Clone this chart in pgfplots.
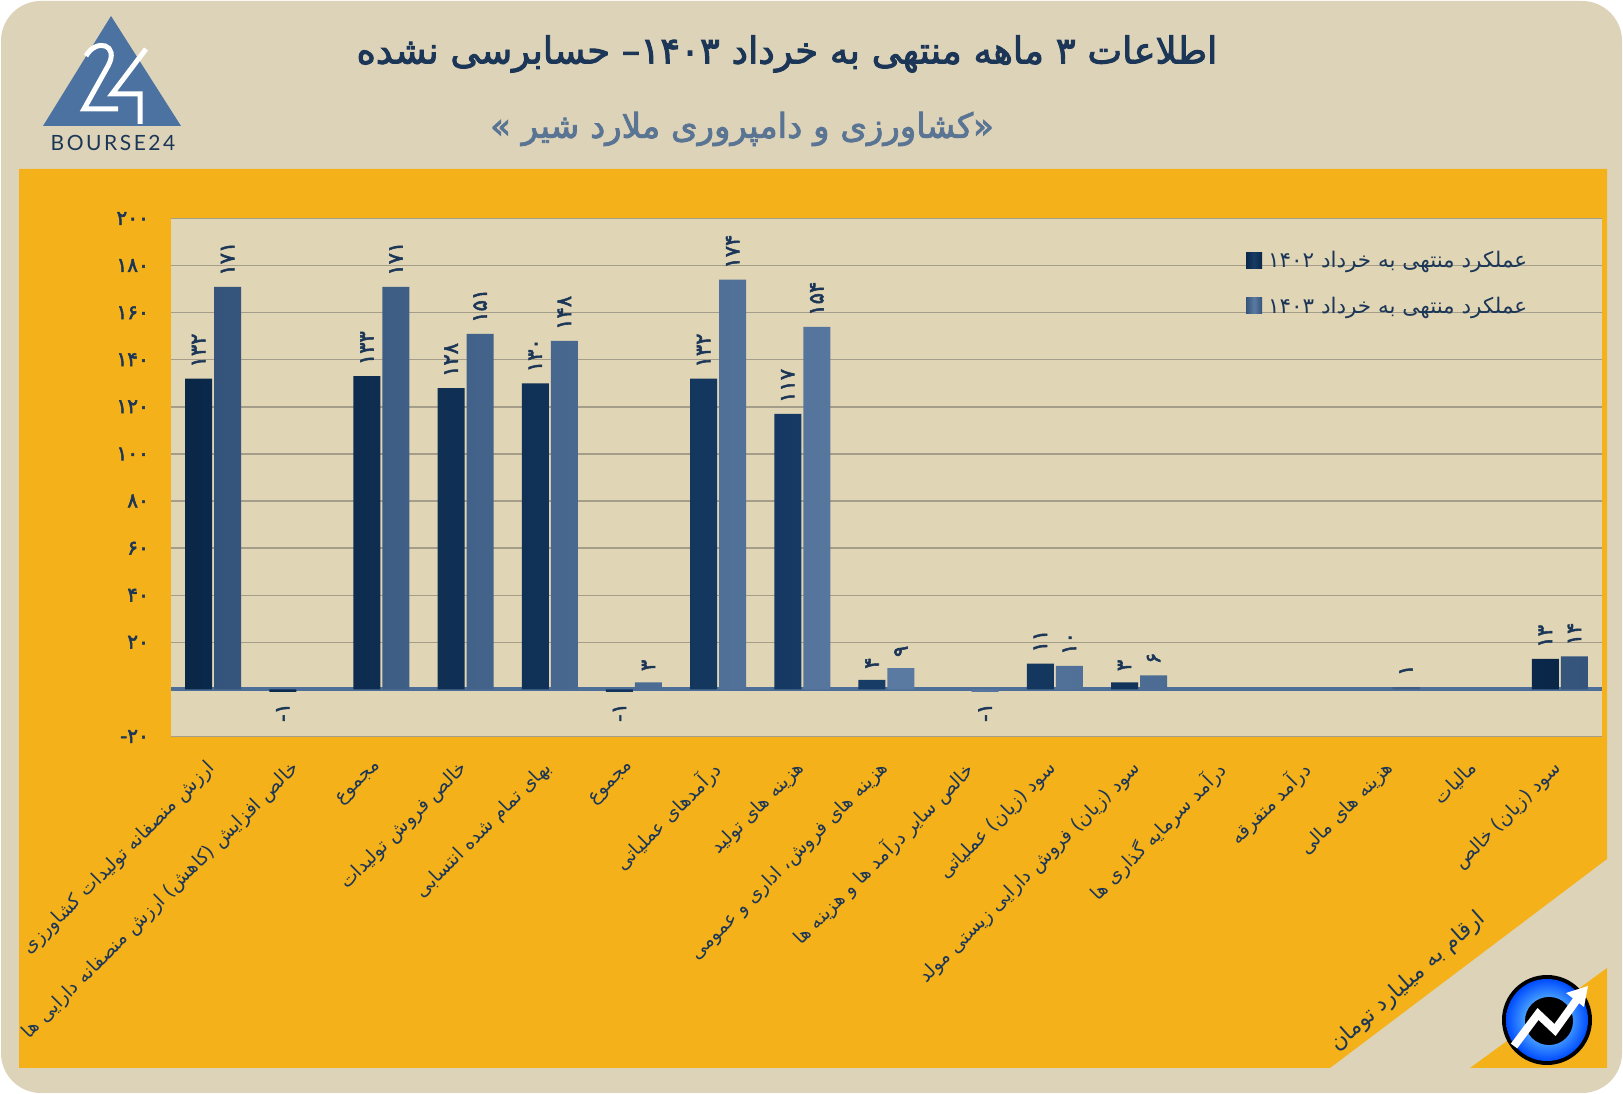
\documentclass[border=0pt]{standalone}
\usepackage{fontspec}
\usepackage{pgfplots}
\pgfplotsset{compat=1.18}
\usepackage{pgfplotstable}
\TeXXeTstate=1
\newfontfamily\fa[Script=Arabic]{DejaVu Sans}
\newfontfamily\fab[Script=Arabic,FakeBold=2.5]{DejaVu Sans}
\newfontfamily\logofont[LetterSpace=12]{Lato}
\newcommand\R[1]{\beginR #1\endR}

\definecolor{bgbeige}{HTML}{DDD3B8}
\definecolor{panel}{HTML}{F5B119}
\definecolor{plotbg}{HTML}{E0D5B5}
\definecolor{gridc}{HTML}{A39D8A}
\definecolor{navy}{HTML}{0A2748}
\definecolor{navyhi}{HTML}{173C66}
\definecolor{steel}{HTML}{34547C}
\definecolor{steelhi}{HTML}{5A7AA2}
\definecolor{txt}{HTML}{1B3657}
\definecolor{sub}{HTML}{5A7494}
\definecolor{zeroline}{HTML}{4D6E98}
\definecolor{logoblue}{HTML}{4B72A0}

% 1402
\pgfplotstableread{
x y lab
0 132 ۱۳۲
1 -1 \hbox{-}۱
2 133 ۱۳۳
3 128 ۱۲۸
4 130 ۱۳۰
5 -1 \hbox{-}۱
6 132 ۱۳۲
7 117 ۱۱۷
8 4 ۴
10 11 ۱۱
11 3 ۳
16 13 ۱۳
}\tA
% 1403
\pgfplotstableread{
x y lab
0 171 ۱۷۱
2 171 ۱۷۱
3 151 ۱۵۱
4 148 ۱۴۸
5 3 ۳
6 174 ۱۷۴
7 154 ۱۵۴
8 9 ۹
9 -1 \hbox{-}۱
10 10 ۱۰
11 6 ۶
14 1 ۱
16 14 ۱۴
}\tB

\begin{document}
\begin{tikzpicture}[x=1pt,y=1pt]
\useasboundingbox (0,0) rectangle (1623,1094);
\fill[white] (0,0) rectangle (1623,1094);
\fill[bgbeige, rounded corners=40pt] (1,1) rectangle (1622,1093);
\fill[panel] (19,925) -- (1607,925) -- (1607,235) -- (1330,26) -- (19,26) -- cycle;
\fill[panel] (1607,126) -- (1607,26) -- (1470,26) -- cycle;

\begin{axis}[
    at={(171pt,357.5pt)}, anchor=south west,
    width=1431pt, height=518pt, scale only axis,
    xmin=-0.5, xmax=16.5, ymin=-20, ymax=200,
    axis background/.style={fill=plotbg},
    axis line style={draw=none},
    tick style={draw=none},
    ymajorgrids, grid style={gridc, line width=1.3pt},
    ytick={-20,20,40,...,200},
    yticklabels={\hbox{-}۲۰,۲۰,۴۰,۶۰,۸۰,۱۰۰,۱۲۰,۱۴۰,۱۶۰,۱۸۰,۲۰۰},
    extra y ticks={0}, extra y tick labels={},
    extra y tick style={grid style={zeroline, line width=4pt}},
    yticklabel style={font=\fab\fontsize{20}{24}\selectfont, text=txt, anchor=east, inner sep=0pt, xshift=-22pt},
    xtick={0,...,16},
    xticklabels={
      {\R{ارزش منصفانه تولیدات کشاورزی}},
      {\R{خالص افزایش (کاهش) ارزش منصفانه دارایی ها}},
      {\R{مجموع}},
      {\R{خالص فروش تولیدات}},
      {\R{بهای تمام شده انتسابی}},
      {\R{مجموع}},
      {\R{درآمدهای عملیاتی}},
      {\R{هزینه های تولید}},
      {\R{هزینه های فروش، اداری و عمومی}},
      {\R{خالص سایر درآمد ها و هزینه ها}},
      {\R{سود (زیان) عملیاتی}},
      {\R{سود (زیان) فروش دارایی زیستی مولد}},
      {\R{درآمد سرمایه گذاری ها}},
      {\R{درآمد متفرقه}},
      {\R{هزینه های مالی}},
      {\R{مالیات}},
      {\R{سود (زیان) خالص}}},
    xticklabel style={font=\fa\fontsize{19}{23}\selectfont, text=txt, inner sep=0pt, xshift=-8pt, yshift=-18pt, rotate=45, anchor=north east},
    ybar, bar width=27pt,
    point meta=explicit symbolic,
    nodes near coords,
    visualization depends on={rawy \as \ry},
    every node near coord/.append style={font=\fab\fontsize{21}{25}\selectfont, text=txt, rotate=90,
      anchor=\ifdim\ry pt<0pt east\else west\fi, inner xsep=11pt, inner ysep=0pt},
    legend image code/.code={\draw[#1,draw=none] (0pt,-8pt) rectangle (16pt,8pt);},
    legend style={at={(0.749,0.945)}, anchor=north west, draw=none, fill=none,
      font=\fa\fontsize{21.5}{26}\selectfont, text=txt, row sep=24pt,
      nodes={inner xsep=6pt}},
    legend cell align=left,
]
\addplot[bar shift=-14.5pt, draw=none, left color=navy, right color=navy, middle color=navyhi]
  table[x=x, y=y, meta=lab] {\tA};
\addplot[bar shift=14.5pt, draw=none, left color=steel, right color=steel, middle color=steelhi]
  table[x=x, y=y, meta=lab] {\tB};
\legend{\R{عملکرد منتهی به خرداد ۱۴۰۲}, \R{عملکرد منتهی به خرداد ۱۴۰۳}}
\end{axis}

% titles
\node[font=\fab\fontsize{37}{44}\selectfont, text=txt] at (787,1040)
  {\R{اطلاعات ۳ ماهه منتهی به خرداد  ۱۴۰۳\hbox{–} حسابرسی نشده}};
\node[font=\fab\fontsize{34}{40}\selectfont, text=sub] at (742,965)
  {\R{\hbox{«}کشاورزی و دامپروری ملارد شیر  \hbox{»}}};

% logo top-left
\fill[logoblue] (43,968) -- (181,968) -- (111,1078) -- cycle;
\draw[white, line width=5pt, line join=miter] (86,1038) .. controls (96,1056) and (120,1050) .. (108,1028) -- (84,985) -- (118,985);
\draw[white, line width=5pt, line join=miter] (146,1045) -- (112,1000) -- (140,1000) -- (140,970);
\node[font=\logofont\fontsize{21}{24}\selectfont, text=txt] at (113,951) {BOURSE24};

% logo bottom-right
\fill[black] (1547,74) circle (45);
\shade[inner color=cyan!40!white, outer color=blue!70!cyan] (1547,74) circle (41);
\fill[black] (1549,73) circle (24);
\draw[white, line width=8pt] (1514,48) -- (1538,80) -- (1555,64) -- (1578,96);
\fill[white] (1588,108) -- (1566,101) -- (1584,87) -- cycle;

\node[font=\fa\fontsize{22}{26}\selectfont, text=txt, rotate=41.6] at (1408,112)
  {\R{ارقام به میلیارد تومان}};
\end{tikzpicture}
\end{document}
